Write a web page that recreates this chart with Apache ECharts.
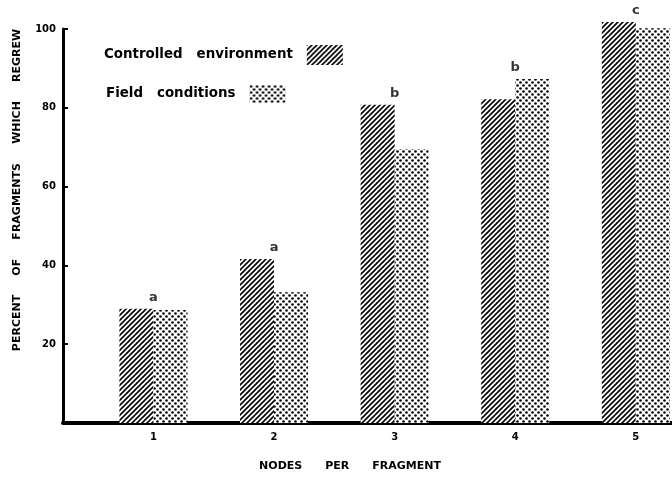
<!DOCTYPE html>
<html>
<head>
<meta charset="utf-8">
<script src="https://cdn.jsdelivr.net/npm/echarts@6/dist/echarts.min.js"></script>
<style>
html,body{margin:0;padding:0;background:#fff;}
#chart{width:672px;height:479px;}
</style>
</head>
<body>
<div id="chart"></div>
<script>
// ---- data ----
const categories = [1, 2, 3, 4, 5];
const controlled = [29, 41.6, 80.8, 82.2, 101.8];
const field = [28.7, 33.2, 69.5, 87.3, 100.2];
const letters = ['a', 'a', 'b', 'b', 'c'];
const yTicks = [20, 40, 60, 80, 100];
const seriesNames = ['Controlled   environment', 'Field   conditions'];
const xTitle = 'NODES      PER      FRAGMENT';
const yTitle = 'PERCENT     OF     FRAGMENTS     WHICH     REGREW';

// ---- patterns ----
function hatchPattern() {
  const s = 5;
  const c = document.createElement('canvas');
  c.width = s; c.height = s;
  const g = c.getContext('2d');
  g.fillStyle = '#fff'; g.fillRect(0, 0, s, s);
  g.strokeStyle = '#000'; g.lineWidth = 1.6; g.lineCap = 'square';
  g.beginPath();
  for (let k = -1; k <= 1; k++) {
    g.moveTo(-2 + k * s, s + 2); g.lineTo(s + 2 + k * s, -2);
  }
  g.stroke();
  return c;
}
function dotPattern() {
  const c = document.createElement('canvas');
  c.width = 6; c.height = 6;
  const g = c.getContext('2d');
  g.fillStyle = '#fff'; g.fillRect(0, 0, 6, 6);
  g.fillStyle = '#000';
  [[1.5, 1.5], [4.5, 4.5]].forEach(p => {
    g.beginPath(); g.arc(p[0], p[1], 1.3, 0, Math.PI * 2); g.fill();
  });
  return c;
}
const hatch = { image: hatchPattern(), repeat: 'repeat' };
const dots = { image: dotPattern(), repeat: 'repeat' };

const boldFont = '"DejaVu Sans", sans-serif';
const chart = echarts.init(document.getElementById('chart'), null, { renderer: 'canvas' });

const tops = categories.map((c, i) => [c, Math.max(controlled[i], field[i])]);

chart.setOption({
  animation: false,
  backgroundColor: '#fff',
  grid: { left: 63, right: 0, top: 29, bottom: 56, containLabel: false },
  legend: [
    {
      data: [seriesNames[0]], left: 104, top: 45, padding: 0, align: 'right', icon: 'rect',
      itemWidth: 36, itemHeight: 20, selectedMode: false,
      textStyle: { fontFamily: boldFont, fontWeight: 'bold', fontSize: 13.4, color: '#000', padding: [0, 9, 0, 0] }
    },
    {
      data: [seriesNames[1]], left: 106, top: 85, padding: 0, align: 'right', icon: 'rect',
      itemWidth: 36, itemHeight: 18, selectedMode: false,
      textStyle: { fontFamily: boldFont, fontWeight: 'bold', fontSize: 13.4, color: '#000', padding: [0, 9, 0, 0] }
    }
  ],
  xAxis: {
    type: 'value', min: 0.25, max: 5.3,
    axisLine: { show: true, onZero: false, lineStyle: { color: '#000', width: 4 } },
    axisTick: { show: false },
    splitLine: { show: false },
    axisLabel: {
      customValues: categories, margin: 9,
      fontFamily: boldFont, fontWeight: 'bold', fontSize: 10, color: '#000'
    }
  },
  yAxis: {
    type: 'value', min: 0, max: 100, interval: 20,
    axisLine: { show: true, lineStyle: { color: '#000', width: 3 } },
    axisTick: { show: true, inside: true, length: 5, lineStyle: { color: '#000', width: 2 } },
    splitLine: { show: false },
    axisLabel: {
      margin: 7, fontFamily: boldFont, fontWeight: 'bold', fontSize: 10, color: '#000',
      formatter: v => (yTicks.indexOf(v) >= 0 ? String(v) : '')
    }
  },
  series: [
    {
      name: seriesNames[0], type: 'bar', barWidth: 34, barGap: '0%', clip: false,
      data: categories.map((c, i) => [c, controlled[i]]),
      itemStyle: { color: hatch }
    },
    {
      name: seriesNames[1], type: 'bar', barWidth: 34, barGap: '0%', clip: false,
      data: categories.map((c, i) => [c, field[i]]),
      itemStyle: { color: dots }
    },
    {
      type: 'scatter', symbolSize: 0, silent: true, clip: false,
      data: tops,
      label: {
        show: true, position: 'top', distance: 5,
        formatter: p => letters[p.dataIndex],
        fontFamily: boldFont, fontWeight: 'bold', fontSize: 13, color: '#000',
        textBorderWidth: 0
      }
    }
  ],
  graphic: [
    {
      type: 'text', x: 350, y: 466,
      style: { text: xTitle, align: 'center', verticalAlign: 'middle',
        font: 'bold 11px "DejaVu Sans", sans-serif', fill: '#000' }
    },
    {
      type: 'text', x: 17, y: 190, rotation: Math.PI / 2,
      style: { text: yTitle, align: 'center', verticalAlign: 'middle',
        font: 'bold 11px "DejaVu Sans", sans-serif', fill: '#000' }
    }
  ]
});
</script>
</body>
</html>
